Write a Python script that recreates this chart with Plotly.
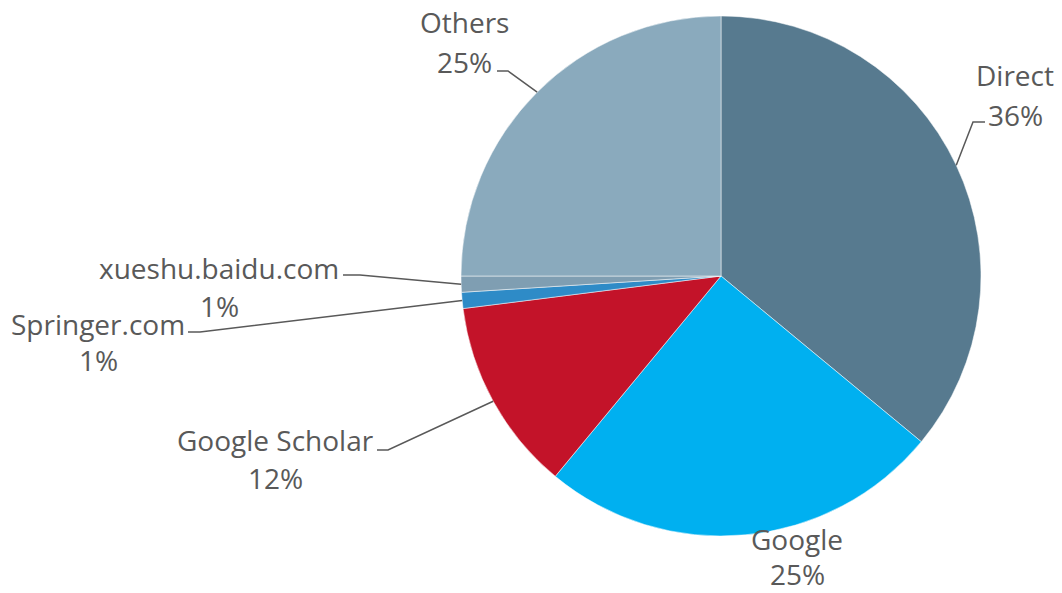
import math
import plotly.graph_objects as go

# ---- data ----
categories = ["Direct", "Google", "Google Scholar", "Springer.com", "xueshu.baidu.com", "Others"]
shares = [36, 25, 12, 1, 1, 25]
pct_labels = ["36%", "25%", "12%", "1%", "1%", "25%"]

# ---- style ----
colors = ["#577A8F", "#00B0F0", "#C31329", "#2E8BC7", "#7F9EB2", "#8AAABD"]
W, H = 1062, 593
CX, CY, R = 721, 276, 260  # pie center / radius in pixels
text_color = "#595959"
font_family = "Open Sans, Noto Sans, sans-serif"
font_size = 28
# label layout (pixels): name center, percent center, knee start/end of leader line (None = no line)
label_pos = {
    "Direct": ((1015, 75), (1015, 115), [(985, 122), (973, 122)]),
    "Google": ((797, 539), (797, 574), None),
    "Google Scholar": ((275, 440), (275, 478), [(377, 450), (388, 450)]),
    "Springer.com": ((98, 324), (98, 360), [(188, 332), (200, 332)]),
    "xueshu.baidu.com": ((219, 268), (219, 306), [(343, 275), (360, 275)]),
    "Others": ((464, 22), (464, 62), [(497, 71), (508, 71)]),
}

def px(x):
    return x / W

def py(y):
    return 1 - y / H

fig = go.Figure(go.Pie(
    labels=categories,
    values=shares,
    sort=False,
    direction="clockwise",
    rotation=0,
    marker=dict(colors=colors, line=dict(color="white", width=0.5)),
    textinfo="none",
    hoverinfo="label+percent",
    domain=dict(x=[px(CX - R), px(CX + R)], y=[py(CY + R), py(CY - R)]),
    showlegend=False,
))

annotations = []
shapes = []
total = sum(shares)
cum = 0
for cat, val, pct in zip(categories, shares, pct_labels):
    mid = (cum + val / 2) / total * 2 * math.pi
    cum += val
    ex = CX + R * math.sin(mid)
    ey = CY - R * math.cos(mid)
    (nx, ny), (qx, qy), knee = label_pos[cat]
    annotations.append(dict(x=px(nx), y=py(ny), xref="paper", yref="paper", text=cat,
                            showarrow=False, xanchor="center", yanchor="middle", borderpad=0,
                            font=dict(size=font_size, color=text_color, family=font_family)))
    annotations.append(dict(x=px(qx), y=py(qy), xref="paper", yref="paper", text=pct,
                            showarrow=False, xanchor="center", yanchor="middle", borderpad=0,
                            font=dict(size=font_size, color=text_color, family=font_family)))
    if knee:
        pts = knee + [(ex, ey)]
        path = "M " + " L ".join(f"{px(a):.5f},{py(b):.5f}" for a, b in pts)
        shapes.append(dict(type="path", path=path, xref="paper", yref="paper",
                           line=dict(color=text_color, width=1.5)))

fig.update_layout(
    width=W, height=H,
    margin=dict(l=0, r=0, t=0, b=0),
    paper_bgcolor="white",
    plot_bgcolor="white",
    annotations=annotations,
    shapes=shapes,
)

fig.write_html("out.html", config={"displayModeBar": False},
               post_script="document.body.style.margin='0px';document.body.style.overflow='hidden';")
